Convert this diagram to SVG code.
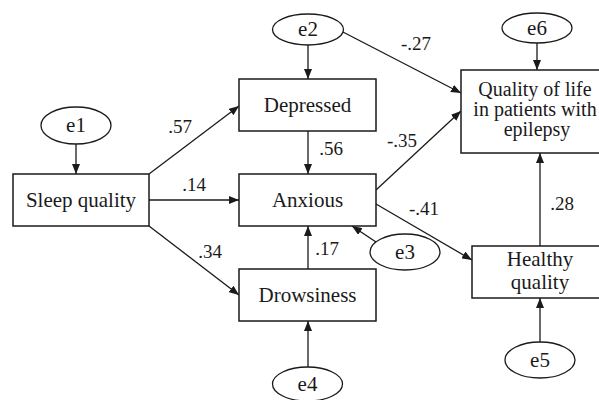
<svg xmlns="http://www.w3.org/2000/svg" width="599" height="400" viewBox="0 0 599 400">
<style>
.box{fill:#fff;stroke:#1a1a1a;stroke-width:1.5}
.ell{fill:#fff;stroke:#1a1a1a;stroke-width:1.3}
text{font-family:'Liberation Serif','DejaVu Serif',serif;fill:#1a1a1a;text-anchor:middle}
.t{font-size:21px}
.q{font-size:20px}
.lb{font-size:19px}
.c line{stroke:#1a1a1a;stroke-width:1.3;marker-end:url(#ah)}
</style>
<defs>
<marker id="ah" markerUnits="userSpaceOnUse" markerWidth="11" markerHeight="8" refX="10" refY="4" orient="auto">
<path d="M0,0 L10,4 L0,8 z" fill="#1a1a1a"/>
</marker>
</defs>
<g class="c" id="connectors">
<line x1="76" y1="144" x2="76" y2="174"/>
<line x1="149" y1="174" x2="239" y2="106"/>
<line x1="149" y1="200" x2="239" y2="200"/>
<line x1="149" y1="226" x2="239" y2="295"/>
<line x1="308" y1="45" x2="308" y2="79"/>
<line x1="341" y1="31" x2="461" y2="93"/>
<line x1="308" y1="131" x2="308" y2="174"/>
<line x1="376" y1="190" x2="461" y2="111"/>
<line x1="376" y1="204" x2="472" y2="260"/>
<line x1="376" y1="242" x2="352" y2="226"/>
<line x1="308" y1="269" x2="308" y2="226"/>
<line x1="308" y1="367" x2="308" y2="321"/>
<line x1="540" y1="342" x2="540" y2="298"/>
<line x1="540" y1="246" x2="540" y2="153"/>
<line x1="537" y1="43" x2="537" y2="70"/>
</g>
<g id="labels" font-family="Liberation Serif">
<text class="lb" x="180" y="133">.57</text>
<text class="lb" x="194" y="191">.14</text>
<text class="lb" x="210" y="258">.34</text>
<text class="lb" x="416" y="50">-.27</text>
<text class="lb" x="331" y="155">.56</text>
<text class="lb" x="402" y="147">-.35</text>
<text class="lb" x="424" y="215">-.41</text>
<text class="lb" x="327" y="255">.17</text>
<text class="lb" x="562" y="210">.28</text>
</g>
<g id="sleep"><rect class="box" x="13" y="174" width="136" height="52"/><text class="t" x="81" y="207">Sleep quality</text></g>
<g id="depressed"><rect class="box" x="239" y="79" width="137" height="52"/><text class="t" x="307.5" y="112">Depressed</text></g>
<g id="anxious"><rect class="box" x="239" y="174" width="137" height="52"/><text class="t" x="307.5" y="207">Anxious</text></g>
<g id="drowsiness"><rect class="box" x="239" y="269" width="137" height="52"/><text class="t" x="307.5" y="302">Drowsiness</text></g>
<g id="qol"><rect class="box" x="461" y="70" width="148" height="83"/><text class="q" x="535" y="96">Quality of life</text><text class="q" x="535" y="116">in patients with</text><text class="q" x="537" y="136">epilepsy</text></g>
<g id="healthy"><rect class="box" x="472" y="246" width="136" height="52"/><text class="t" x="540" y="266">Healthy</text><text class="t" x="540" y="289">quality</text></g>
<g id="e1"><ellipse class="ell" cx="76" cy="125.5" rx="35" ry="18.5"/><text class="t" x="76" y="132">e1</text></g>
<g id="e2"><ellipse class="ell" cx="308" cy="29.5" rx="35.5" ry="15.5"/><text class="t" x="308" y="36">e2</text></g>
<g id="e3"><ellipse class="ell" cx="405" cy="252" rx="35" ry="18"/><text class="t" x="405" y="258.5">e3</text></g>
<g id="e4"><ellipse class="ell" cx="307.5" cy="384" rx="35" ry="17"/><text class="t" x="307.5" y="390.5">e4</text></g>
<g id="e5"><ellipse class="ell" cx="540" cy="360" rx="35" ry="18"/><text class="t" x="540" y="366.5">e5</text></g>
<g id="e6"><ellipse class="ell" cx="537" cy="28" rx="35" ry="15"/><text class="t" x="537" y="34.5">e6</text></g>
</svg>
